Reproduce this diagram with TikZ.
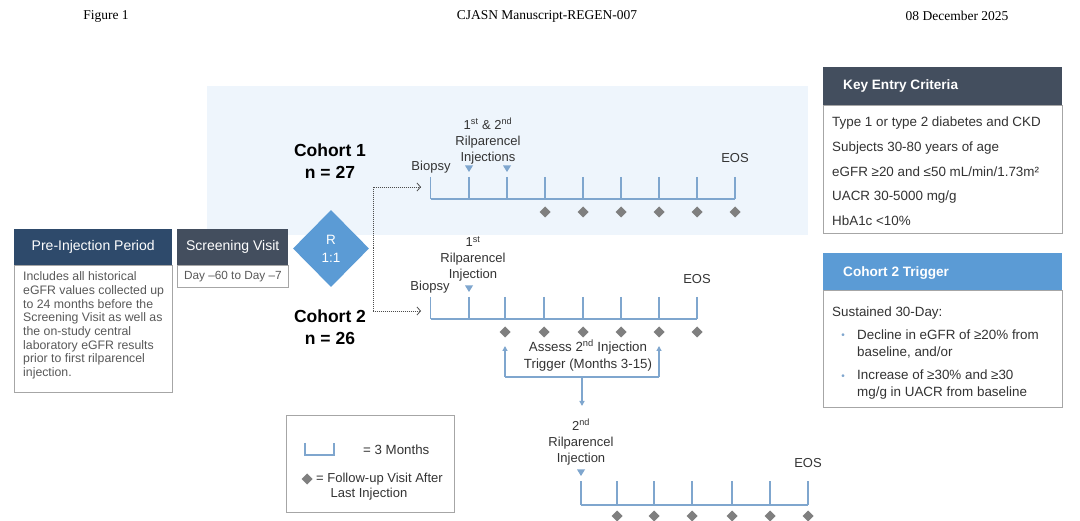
\documentclass[tikz,border=0pt]{standalone}
\usepackage{fontspec}
\setmainfont{Liberation Sans}
\newfontfamily\hdrfont{Liberation Serif}
\usetikzlibrary{arrows.meta,shapes.geometric}
\definecolor{navy}{HTML}{2E4A6B}
\definecolor{slate}{HTML}{434E5E}
\definecolor{rblue}{HTML}{5B9BD5}
\definecolor{tl}{HTML}{7FA6CE}
\definecolor{bgblue}{HTML}{EEF5FC}
\definecolor{txt}{HTML}{333333}
\definecolor{gtxt}{HTML}{595959}
\definecolor{dgray}{HTML}{7F7F7F}
\definecolor{bord}{HTML}{A6A6A6}
\begin{document}
\begin{tikzpicture}[x=1pt,y=-1pt,
  tline/.style={draw=tl, line width=1.3pt},
  lbl/.style={font=\fontsize{13}{16}\selectfont, text=txt, align=center, inner sep=0pt},
  coh/.style={font=\bfseries\fontsize{17.5}{22}\selectfont, align=center, inner sep=0pt},
  hdrbox/.style={anchor=north west, inner sep=0pt, text=white, font=\fontsize{14}{16}\selectfont},
  bodybox/.style={draw=bord, fill=white, line width=0.8pt, anchor=north west, inner sep=0pt},
  crit/.style={anchor=west, inner sep=0pt, text=txt, font=\fontsize{13.4}{17}\selectfont, align=left},
  dotarrow/.style={draw=black!70, line width=0.8pt, dash pattern=on 1pt off 1pt, -{Straight Barb[length=3.5pt,width=8pt]}},
  bluearrow/.style={draw=tl, line width=1.3pt, -{Triangle[length=5pt,width=5pt]}},
  hdrtext/.style={inner sep=0pt, font=\hdrfont\fontsize{13.5}{15}\selectfont}
]
\useasboundingbox (0,0) rectangle (1080,521);
\fill[white] (0,0) rectangle (1080,521);

% page header
\node[hdrtext] (fig) at (106,16) {Figure 1};
\node[hdrtext] (manu) at (547,16) {CJASN Manuscript-REGEN-007};
\node[hdrtext] (date) at (957,16) {08 December 2025};

% light blue background for cohort 1
\fill[bgblue] (207,86) rectangle (808,235);

% Pre-injection period
\node[bodybox, minimum width=158pt, minimum height=127pt] (prebody) at (14,265) {};
\node[hdrbox, fill=navy, minimum width=158pt, minimum height=36pt] (prehdr) at (14,229) {Pre-Injection Period};
\node[anchor=west, inner sep=0pt, text=gtxt, font=\fontsize{12.3}{13.7}\selectfont, align=left] (pretext) at (23,325.5)
 {Includes all historical\\eGFR values collected up\\to 24 months before the\\Screening Visit as well as\\the on-study central\\laboratory eGFR results\\prior to first rilparencel\\injection.};

% Screening visit
\node[bodybox, minimum width=111pt, minimum height=22pt] (scrbody) at (177,265) {};
\node[hdrbox, fill=slate, minimum width=111pt, minimum height=36pt] (scrhdr) at (177,229) {Screening Visit};
\node[inner sep=0pt, text=gtxt, font=\fontsize{11.8}{14}\selectfont] (scrtext) at (scrbody.center) {Day --60 to Day --7};

% randomisation diamond
\node[diamond, fill=rblue, minimum width=76pt, minimum height=77pt, inner sep=0pt, text=white, align=center,
  font=\fontsize{13.5}{18}\selectfont] (rand) at (331,248.5) {R\\1:1};

\node[coh] (coh1) at (330,161) {Cohort 1\\n = 27};
\node[coh] (coh2) at (330,327.5) {Cohort 2\\n = 26};

% dotted split arrows
\coordinate (split) at (373,248.5);
\coordinate (c1in) at (421,187);
\coordinate (c2in) at (421,311);
\draw[dotarrow] (split) |- (c1in);
\draw[dotarrow] (split) |- (c2in);

% ---------- Cohort 1 timeline ----------
\draw[tline] (430.7,199) -- (735,199);
\foreach \x in {430.7,469,507,545,583,621,659,697,735} \draw[tline] (\x,177) -- (\x,199);
\foreach \x in {545,583,621,659,697,735} \fill[dgray] (\x,206.5) -- (\x+5.5,212) -- (\x,217.5) -- (\x-5.5,212) -- cycle;
\foreach \x in {469,507} \fill[tl] (\x-4,165.5) -- (\x+4,165.5) -- (\x,172) -- cycle;
\node[lbl] (bio1) at (431,167) {Biopsy};
\node[lbl] (eos1) at (735,158) {EOS};
\node[lbl] (inj1) at (488,141) {1\textsuperscript{st} \& 2\textsuperscript{nd}\\Rilparencel\\Injections};

% ---------- Cohort 2 timeline ----------
\draw[tline] (430.7,319) -- (697,319);
\foreach \x in {430.7,469,505,544,583,621,659,697} \draw[tline] (\x,297) -- (\x,319);
\foreach \x in {505,544,583,621,659,697} \fill[dgray] (\x,326.5) -- (\x+5.5,332) -- (\x,337.5) -- (\x-5.5,332) -- cycle;
\fill[tl] (465,285.5) -- (473,285.5) -- (469,292) -- cycle;
\node[lbl] (bio2) at (430,287) {Biopsy};
\node[lbl] (eos2) at (697,279) {EOS};
\node[lbl] (inj2) at (473,259) {1\textsuperscript{st}\\Rilparencel\\Injection};

% assess trigger bracket
\node[lbl, font=\fontsize{13.3}{17}\selectfont] (assess) at (588,355.5) {Assess 2\textsuperscript{nd} Injection\\Trigger (Months 3-15)};
\coordinate (brL) at (505,377);
\coordinate (brR) at (659,377);
\coordinate (brM) at (582,377);
\coordinate (upL) at (505,346);
\coordinate (upR) at (659,346);
\coordinate (down) at (582,406);
\draw[tline] (brL) -- (brR);
\draw[bluearrow] (brL) -- (upL);
\draw[bluearrow] (brR) -- (upR);
\draw[bluearrow] (brM) -- (down);

% ---------- second injection timeline ----------
\node[lbl] (inj3) at (581,442) {2\textsuperscript{nd}\\Rilparencel\\Injection};
\node[lbl] (eos3) at (808,463) {EOS};
\fill[tl] (577,469.5) -- (585,469.5) -- (581,476) -- cycle;
\draw[tline] (581,505) -- (808,505);
\foreach \x in {581,617,654,692,732,770,808} \draw[tline] (\x,481) -- (\x,505);
\foreach \x in {617,654,692,732,770,808} \fill[dgray] (\x,510.5) -- (\x+5.5,516) -- (\x,521.5) -- (\x-5.5,516) -- cycle;

% ---------- legend ----------
\node[bodybox, minimum width=168pt, minimum height=97pt] (legend) at (286,415) {};
\draw[tline] (305,443) -- (305,455) -- (334,455) -- (334,443);
\node[anchor=west, inner sep=0pt, text=txt, font=\fontsize{13.3}{16}\selectfont] (leg1) at (363,450) {= 3 Months};
\fill[dgray] (307,473.5) -- (312.5,479) -- (307,484.5) -- (301.5,479) -- cycle;
\node[anchor=west, inner sep=0pt, text=txt, font=\fontsize{13}{16}\selectfont] (leg2) at (316,479) {= Follow-up Visit After};
\node[inner sep=0pt, text=txt, font=\fontsize{13}{16}\selectfont] (leg3) at (369,494) {Last Injection};

% ---------- Key entry criteria ----------
\node[bodybox, minimum width=239pt, minimum height=128pt] (keybody) at (823,105) {};
\node[hdrbox, fill=slate, minimum width=239pt, minimum height=38pt] (keyhdr) at (823,67) {};
\node[anchor=west, inner sep=0pt, text=white, font=\bfseries\fontsize{13.6}{16}\selectfont] (keytitle) at (843,86) {Key Entry Criteria};
\node[crit] (k1) at (832,123) {Type 1 or type 2 diabetes and CKD};
\node[crit] (k2) at (832,148) {Subjects 30-80 years of age};
\node[crit] (k3) at (832,172) {eGFR ≥20 and ≤50 mL/min/1.73m²};
\node[crit] (k4) at (832,197) {UACR 30-5000 mg/g};
\node[crit] (k5) at (832,221) {HbA1c <10\%};

% ---------- Cohort 2 trigger ----------
\node[bodybox, minimum width=239pt, minimum height=117pt] (trigbody) at (823,290) {};
\node[hdrbox, fill=rblue, minimum width=239pt, minimum height=37pt] (trighdr) at (823,253) {};
\node[anchor=west, inner sep=0pt, text=white, font=\bfseries\fontsize{13.6}{16}\selectfont] (trigtitle) at (843,273) {Cohort 2 Trigger};
\node[crit] (t0) at (832,313) {Sustained 30-Day:};
\node[inner sep=0pt, text=tl, font=\fontsize{10}{10}\selectfont] (b1) at (843,336) {•};
\node[inner sep=0pt, text=tl, font=\fontsize{10}{10}\selectfont] (b2) at (843,377) {•};
\node[crit] (t1) at (857,344.5) {Decline in eGFR of ≥20\% from\\baseline, and/or};
\node[crit] (t2) at (857,385) {Increase of ≥30\% and ≥30\\mg/g in UACR from baseline};
\end{tikzpicture}
\end{document}
